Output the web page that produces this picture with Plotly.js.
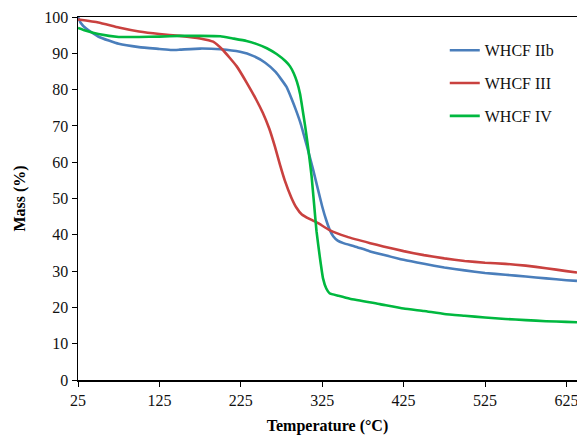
<!DOCTYPE html>
<html><head><meta charset="utf-8">
<script src="https://cdn.plot.ly/plotly-3.0.1.min.js"></script>
<style>body{margin:0;padding:0;background:#fff}#c{width:577px;height:438px}</style>
</head><body><div id="c"></div>
<script>
const namesList = ["WHCF IIb", "WHCF III", "WHCF IV"];
const tIIb = [25, 28, 35, 51, 75, 100, 125, 140, 150, 175, 200, 224, 240, 255, 268, 281, 287, 293, 299, 306, 314, 320, 325, 330, 334, 338.5, 344, 351, 365, 383, 400, 425, 450, 475, 500, 525, 550, 575, 600, 625, 638];
const mIIb = [100, 98.5, 96.8, 94.5, 92.6, 91.7, 91.2, 90.9, 91.0, 91.3, 91.1, 90.4, 89.3, 87.4, 84.8, 80.8, 77.7, 74.2, 70.3, 64.6, 57.8, 52.3, 47.8, 44, 41.5, 39.6, 38.4, 37.7, 36.8, 35.5, 34.5, 33.1, 32, 31, 30.2, 29.5, 29, 28.5, 28, 27.5, 27.3];
const tIII = [25, 50, 75, 100, 125, 150, 175, 191, 203, 220, 232, 244, 252, 260, 267, 273, 279, 287, 293, 300, 310, 320, 334, 355, 384, 400, 425, 450, 475, 500, 525, 550, 575, 600, 625, 638];
const mIII = [99.3, 98.5, 97.1, 96, 95.3, 94.8, 94.1, 93.2, 90.9, 86.4, 82, 77.2, 73.6, 69.2, 64.2, 59.4, 55, 50.3, 47.6, 45.6, 44.3, 43.2, 41.3, 39.5, 37.7, 36.8, 35.5, 34.4, 33.5, 32.8, 32.3, 32, 31.5, 30.8, 30, 29.6];
const tIV = [25, 35, 50, 75, 100, 125, 150, 175, 200, 215, 232, 244, 257, 269, 280, 285.5, 290, 294, 297.8, 300, 304, 308, 312, 315, 318, 322, 326, 330, 334, 345, 359, 396, 425, 450, 475, 500, 525, 550, 575, 600, 625, 638];
const mIV = [97, 96.2, 95.3, 94.5, 94.5, 94.6, 94.8, 94.8, 94.7, 94.1, 93.4, 92.6, 91.4, 89.8, 87.8, 86.4, 84.5, 82.1, 78.8, 75.8, 70, 63.5, 56, 48.5, 41, 34, 28, 25.2, 23.9, 23.2, 22.4, 20.9, 19.7, 19, 18.2, 17.7, 17.2, 16.8, 16.5, 16.2, 16, 15.9];
const colorsList = ["#4A7EBB", "#C9413F", "#00B83F"];

const xs = [tIIb, tIII, tIV], ys = [mIIb, mIII, mIV];
const traces = namesList.map((n, i) => ({
  x: xs[i], y: ys[i], name: n, type: "scatter", mode: "lines", legendgroup: "g" + i,
  line: {color: colorsList[i], width: 2.6, shape: "spline", smoothing: 0.4}
}));
const fam = "Liberation Serif, Times New Roman, serif";
Plotly.newPlot("c", traces, {
  width: 577, height: 438,
  margin: {l: 78, r: 0, t: 17, b: 58},
  paper_bgcolor: "#fff", plot_bgcolor: "#fff",
  font: {family: fam, size: 16, color: "#111"},
  showlegend: true,
  legend: {x: 0.735, y: 0.955, xanchor: "left", yanchor: "top", bgcolor: "rgba(0,0,0,0)",
    font: {family: fam, size: 16, color: "#111"}, itemwidth: 30, traceorder: "grouped", tracegroupgap: 9},
  xaxis: {range: [25, 638], tick0: 25, dtick: 100, showgrid: false, zeroline: false,
    showline: true, linecolor: "#000", linewidth: 1.5, mirror: true, ticklabeloverflow: "allow",
    ticks: "outside", ticklen: 5, tickcolor: "#000",
    title: {text: "<b>Temperature (°C)</b>", font: {family: fam, size: 16, color: "#000"}, standoff: 12}},
  yaxis: {range: [0, 100], dtick: 10, showgrid: false, zeroline: false,
    showline: true, linecolor: "#000", linewidth: 1.5,
    ticks: "outside", ticklen: 5, tickcolor: "#000",
    title: {text: "<b>Mass (%)</b>", font: {family: fam, size: 16, color: "#000"}, standoff: 14}}
}, {displayModeBar: false, staticPlot: true});
</script></body></html>
